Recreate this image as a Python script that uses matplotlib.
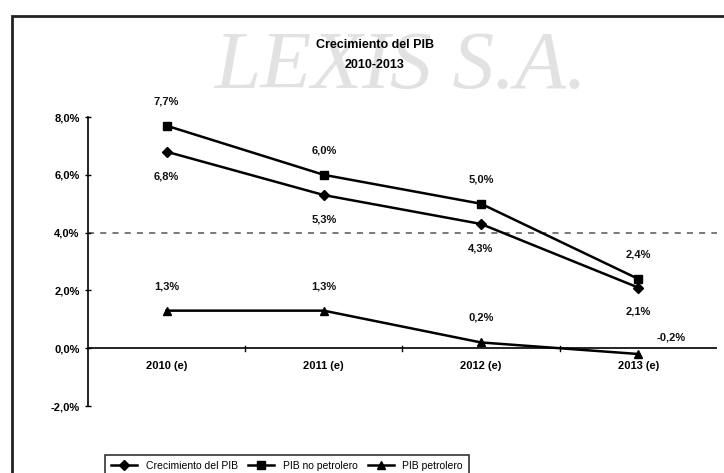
import matplotlib
matplotlib.use("Agg")
import matplotlib.pyplot as plt
from matplotlib.patches import Rectangle

plt.rcParams['font.family'] = ['Liberation Sans', 'DejaVu Sans']

categories = ["2010 (e)", "2011 (e)", "2012 (e)", "2013 (e)"]
pib_total = [6.8, 5.3, 4.3, 2.1]
pib_no_petrolero = [7.7, 6.0, 5.0, 2.4]
pib_petrolero = [1.3, 1.3, 0.2, -0.2]
y_ticks = [-2, 0, 2, 4, 6, 8]

def pct(v):
    return f"{v:.1f}%".replace(".", ",")

fig = plt.figure(figsize=(7.24, 4.73), dpi=100)
ax = fig.add_axes([0.1215, 0.1416, 0.8685, 0.611])

x = list(range(len(categories)))

# watermark behind the chart
fig.text(0.555, 0.855, "LEXIS S.A.", fontsize=60, family='Liberation Serif',
         style='italic', color='#e2e2e2', ha='center', va='center', zorder=0)

# reference line at 4 %
ax.axhline(4, color='#555555', lw=1.1, ls=(0, (4, 4)), zorder=1)

l1, = ax.plot(x, pib_total, color='black', lw=1.8, marker='D', ms=5,
              markerfacecolor='black', label='Crecimiento del PIB', zorder=3)
l2, = ax.plot(x, pib_no_petrolero, color='black', lw=1.8, marker='s', ms=6,
              markerfacecolor='black', label='PIB no petrolero', zorder=3)
l3, = ax.plot(x, pib_petrolero, color='black', lw=1.8, marker='^', ms=6,
              markerfacecolor='black', label='PIB petrolero', zorder=3)

lab_kw = dict(fontsize=8, fontweight='bold', ha='center', color='#111111')
for i, v in enumerate(pib_no_petrolero):
    ax.annotate(pct(v), (i, v), xytext=(0, 14), textcoords='offset points', va='bottom', **lab_kw)
for i, v in enumerate(pib_total):
    ax.annotate(pct(v), (i, v), xytext=(0, -14), textcoords='offset points', va='top', **lab_kw)
for i, v in enumerate(pib_petrolero):
    if i == 3:
        ax.annotate(pct(v), (i, v), xytext=(24, 8), textcoords='offset points', va='bottom', **lab_kw)
    else:
        ax.annotate(pct(v), (i, v), xytext=(0, 14), textcoords='offset points', va='bottom', **lab_kw)

ax.set_xlim(-0.5, 3.5)
ax.set_ylim(-2, 8)
ax.set_yticks(y_ticks)
ax.set_yticklabels([pct(v) for v in y_ticks], fontsize=8, fontweight='bold')

for s in ['top', 'right', 'bottom']:
    ax.spines[s].set_visible(False)
ax.spines['left'].set_linewidth(1.2)
ax.axhline(0, color='black', lw=1.2, zorder=2)

ax.set_xticks([])
for i, c in enumerate(categories):
    ax.text(i, -0.45, c, ha='center', va='top', fontsize=8, fontweight='bold')
for b in [0.5, 1.5, 2.5]:
    ax.plot([b, b], [-0.08, 0.08], color='black', lw=1, zorder=2)
ax.tick_params(axis='y', direction='inout', length=5, width=1)

fig.text(0.518, 0.905, "Crecimiento del PIB", ha='center', va='center',
         fontsize=9, fontweight='bold')
fig.text(0.518, 0.862, "2010-2013", ha='center', va='center',
         fontsize=9, fontweight='bold')

leg = fig.legend(handles=[l1, l2, l3], loc='lower left', bbox_to_anchor=(0.138, -0.02),
                 ncol=3, fontsize=7.5, frameon=True, fancybox=False, edgecolor='black',
                 handlelength=2.5, columnspacing=1.0, borderpad=0.6)
leg.get_frame().set_linewidth(1.2)

# outer frame
fig.add_artist(Rectangle((12 / 724, -0.1), 1.2, (473 - 16) / 473 + 0.1,
                         transform=fig.transFigure, fill=False, lw=2, ec='#222222'))

fig.savefig("out.png", dpi=100)
